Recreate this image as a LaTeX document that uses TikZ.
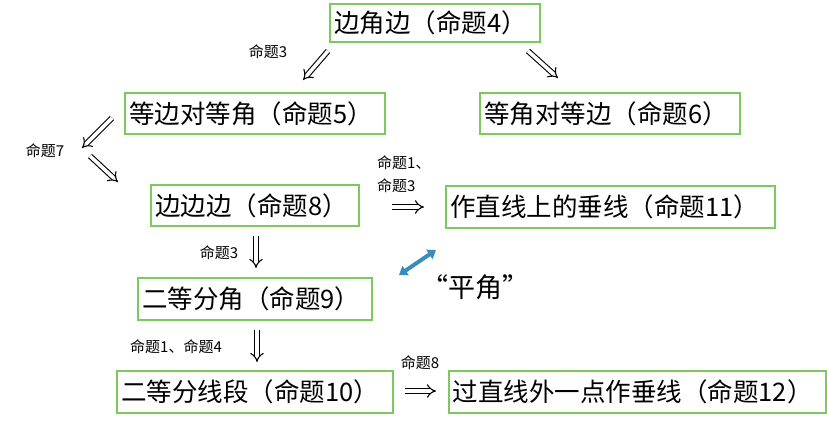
\documentclass[tikz,border=0pt]{standalone}
\usepackage{fontspec}
\setmainfont{Noto Sans CJK SC}
\usetikzlibrary{arrows,arrows.meta}
\definecolor{boxgreen}{RGB}{125,200,95}
\definecolor{bluearrow}{RGB}{58,140,185}
\tikzset{
  box/.style={draw=boxgreen, line width=1.6pt, inner xsep=4pt, inner ysep=0pt, align=left, font=\fontsize{25.5}{28}\selectfont},
  lbl/.style={font=\fontsize{15}{17}\selectfont, inner sep=0pt},
  dbl/.style={double, double distance=3.6pt, line width=1.1pt, -implies},
}
\begin{document}
\begin{tikzpicture}[x=1pt,y=-1pt]
\useasboundingbox (0,0) rectangle (827,426);
% boxes
\node[box, text width=202pt, minimum height=38pt] (b4) at (435,23) {边角边（命题4）};
\node[box, text width=252pt, minimum height=41pt] (b5) at (255,113.5) {等边对等角（命题5）};
\node[box, text width=252pt, minimum height=41pt] (b6) at (610,113.5) {等角对等边（命题6）};
\node[box, text width=200pt, minimum height=41pt] (b8) at (255,205.5) {边边边（命题8）};
\node[box, text width=321pt, minimum height=42pt] (b11) at (610.5,207) {作直线上的垂线（命题11）};
\node[box, text width=226pt, minimum height=42pt] (b9) at (255,299) {二等分角（命题9）};
\node[box, text width=268pt, minimum height=42pt] (b10) at (255,392) {二等分线段（命题10）};
\node[box, text width=369pt, minimum height=42pt, anchor=west] (b12) at (448,392) {过直线外一点作垂线（命题12）};
% arrow end points
\coordinate (a1s) at (328,51); \coordinate (a1e) at (303,80);
\coordinate (a2s) at (528,51); \coordinate (a2e) at (558,78);
\coordinate (a3s) at (112,118); \coordinate (a3e) at (82,148);
\coordinate (a4s) at (90,156); \coordinate (a4e) at (118,182);
\coordinate (a5s) at (392,207); \coordinate (a5e) at (424,207);
\coordinate (a6s) at (256,236); \coordinate (a6e) at (256,268);
\coordinate (a7s) at (257,330); \coordinate (a7e) at (257,362);
\coordinate (a8s) at (405,391); \coordinate (a8e) at (436,391);
\coordinate (bls) at (399,275); \coordinate (ble) at (436,250);
% arrows
\draw[dbl] (a1s) -- (a1e);
\draw[dbl] (a2s) -- (a2e);
\draw[dbl] (a3s) -- (a3e);
\draw[dbl] (a4s) -- (a4e);
\draw[dbl] (a5s) -- (a5e);
\draw[dbl] (a6s) -- (a6e);
\draw[dbl] (a7s) -- (a7e);
\draw[dbl] (a8s) -- (a8e);
\draw[bluearrow, line width=4pt, {Triangle[width=11pt,length=8pt]}-{Triangle[width=11pt,length=8pt]}] (bls) -- (ble);
% labels
\node[lbl] (l1) at (268,52) {命题3};
\node[lbl] (l2) at (45,151) {命题7};
\node[lbl, anchor=west] (l3) at (377,163) {命题1、};
\node[lbl, anchor=west] (l4) at (377,186) {命题3};
\node[lbl] (l5) at (219,253) {命题3};
\node[lbl] (l6) at (176,347) {命题1、命题4};
\node[lbl] (l7) at (420,363) {命题8};
\node[font=\fontsize{27}{30}\selectfont, inner sep=0pt] (pj) at (475,287) {“平角”};
\end{tikzpicture}
\end{document}
